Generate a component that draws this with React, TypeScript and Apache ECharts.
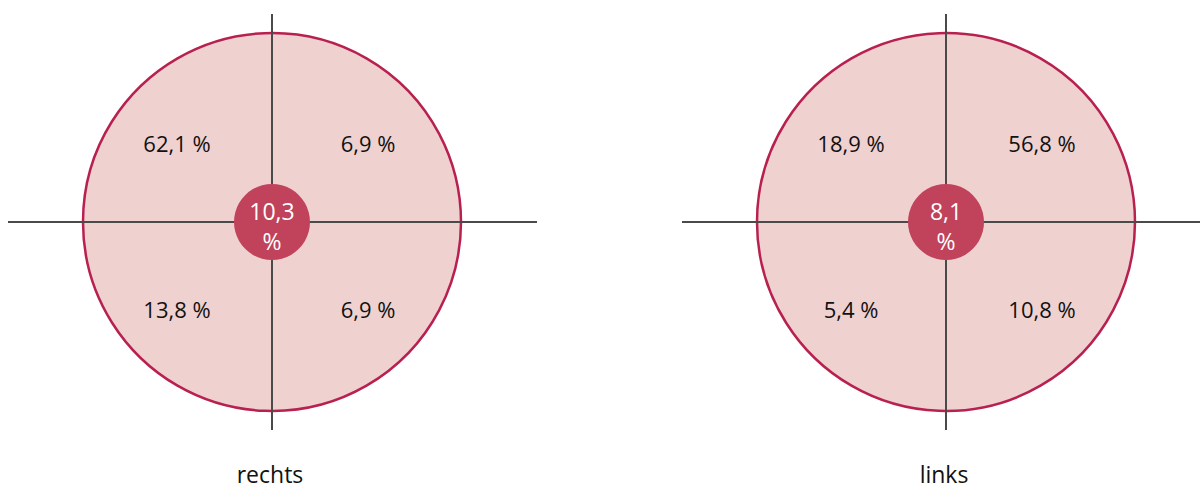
import React, { useEffect, useRef } from "react";
import * as echarts from "echarts";

const panels = ["rechts", "links"];
const topLeft = ["62,1 %", "18,9 %"];
const topRight = ["6,9 %", "56,8 %"];
const bottomLeft = ["13,8 %", "5,4 %"];
const bottomRight = ["6,9 %", "10,8 %"];
const centerValues = ["10,3", "8,1"];

const FONT = "'Open Sans', 'DejaVu Sans', sans-serif";

export default function App() {
  const ref = useRef<HTMLDivElement>(null);
  useEffect(() => {
    const chart = echarts.init(ref.current!, null, { renderer: "svg" });
    const elements: any[] = [];
    const centers = [
      { cx: 272, cy: 222, x1: 8, x2: 537 },
      { cx: 946, cy: 222, x1: 682, x2: 1200 },
    ];
    const R = 189;
    centers.forEach((c, i) => {
      elements.push({
        type: "circle",
        shape: { cx: c.cx, cy: c.cy, r: R },
        style: { fill: "#efd1d0", stroke: "#b8214f", lineWidth: 2.5 },
        z: 1,
      });
      elements.push({
        type: "line",
        shape: { x1: c.x1, y1: c.cy, x2: c.x2, y2: c.cy },
        style: { stroke: "#4a4a4a", lineWidth: 2 },
        z: 2,
      });
      elements.push({
        type: "line",
        shape: { x1: c.cx, y1: 14, x2: c.cx, y2: 430 },
        style: { stroke: "#4a4a4a", lineWidth: 2 },
        z: 2,
      });
      elements.push({
        type: "circle",
        shape: { cx: c.cx, cy: c.cy, r: 38 },
        style: { fill: "#c0425b" },
        z: 3,
      });
      const txt = (x: number, y: number, t: string, color = "#111", size = 22) => ({
        type: "text",
        x,
        y,
        z: 4,
        style: {
          text: t,
          fill: color,
          font: `${size}px ${FONT}`,
          align: "center",
          verticalAlign: "middle",
        },
      });
      elements.push(txt(c.cx - 95, 143, topLeft[i]));
      elements.push(txt(c.cx + 96, 143, topRight[i]));
      elements.push(txt(c.cx - 95, 309, bottomLeft[i]));
      elements.push(txt(c.cx + 96, 309, bottomRight[i]));
      elements.push(txt(c.cx, 211, centerValues[i], "#ffffff", 23));
      elements.push(txt(c.cx, 241, "%", "#ffffff", 23));
      elements.push(txt(c.cx - 2, 474, panels[i], "#111", 23));
    });
    chart.setOption({ animation: false, graphic: { elements } });
    return () => chart.dispose();
  }, []);
  return <div ref={ref} style={{ width: 1200, height: 489, position: "absolute", left: 0, top: 0 }} />;
}
